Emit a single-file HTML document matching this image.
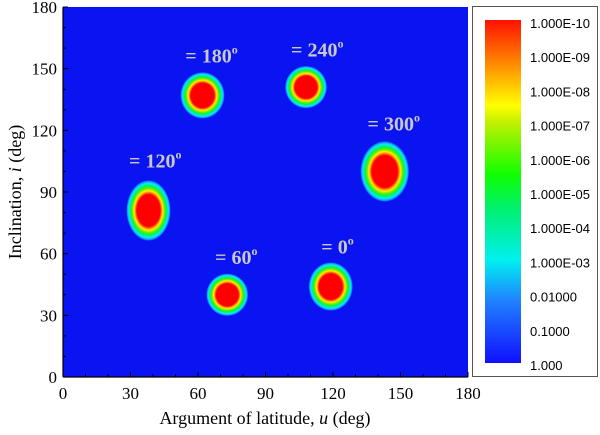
<!DOCTYPE html>
<html><head><meta charset="utf-8"><style>
body{margin:0;background:#fff;width:600px;height:430px;overflow:hidden}
svg text{font-family:"Liberation Serif",serif}
</style></head><body>
<svg id="chart" width="600" height="430" xmlns="http://www.w3.org/2000/svg">
<defs>
<radialGradient id="blobGrad">
<stop offset="0" stop-color="#ff0000"/>
<stop offset="0.52" stop-color="#ff0000"/>
<stop offset="0.58" stop-color="#ff8000"/>
<stop offset="0.64" stop-color="#ffee00"/>
<stop offset="0.72" stop-color="#60f000"/>
<stop offset="0.80" stop-color="#00f060"/>
<stop offset="0.88" stop-color="#00f0f0"/>
<stop offset="0.95" stop-color="#2080ff"/>
<stop offset="1" stop-color="#0a14f0" stop-opacity="0"/>
</radialGradient>
<linearGradient id="cbGrad" x1="0" y1="1" x2="0" y2="0">
<stop offset="0" stop-color="#1010ff"/>
<stop offset="0.18" stop-color="#2080ff"/>
<stop offset="0.3" stop-color="#00f0f0"/>
<stop offset="0.45" stop-color="#00f070"/>
<stop offset="0.55" stop-color="#10ff00"/>
<stop offset="0.7" stop-color="#c0f000"/>
<stop offset="0.75" stop-color="#ffff00"/>
<stop offset="0.85" stop-color="#ffa000"/>
<stop offset="1" stop-color="#ff1000"/>
</linearGradient>
</defs>
<rect x="63" y="7" width="405" height="370" fill="#0a14f0"/>
<g id="blobs"></g>
<g id="labels"></g>
<line x1="63" y1="377" x2="468" y2="377" stroke="#000" stroke-width="1.2"/>
<line x1="63" y1="7" x2="63" y2="377" stroke="#000" stroke-width="1.2"/>
<g id="xticks"></g><g id="yticks"></g>
<text x="265" y="424" font-size="18" text-anchor="middle">Argument of latitude, <tspan font-style="italic">u</tspan> (deg)</text>
<text transform="translate(21,192) rotate(-90)" font-size="18" text-anchor="middle">Inclination, <tspan font-style="italic">i</tspan> (deg)</text>
<rect x="472.5" y="6.5" width="125" height="370" fill="#fff" stroke="#555"/>
<rect x="485" y="20" width="36" height="343" fill="url(#cbGrad)"/>
<g id="cblabels"></g>
</svg>
<script>
const blobU=[119,73,38,62,108,143];
const blobI=[44,40,81,137,141,100];
const blobRu=[10,9.5,10,10,9.5,11];
const blobRi=[12,10.5,15,11.5,10.5,15];
const blobNames=['0','60','120','180','240','300'];
const labelU=[122,77,41,66,113,147];
const labelI=[60,55,102,153,156,120];
const xTicks=[0,30,60,90,120,150,180];
const yTicks=[0,30,60,90,120,150,180];
const cbLabels=['1.000E-10','1.000E-09','1.000E-08','1.000E-07','1.000E-06','1.000E-05','1.000E-04','1.000E-03','0.01000','0.1000','1.000'];
const NS='http://www.w3.org/2000/svg';
const X=u=>63+u*405/180, Y=i=>377-i*370/180;
const sx=405/180, sy=370/180;
function mk(t,a,p){const e=document.createElementNS(NS,t);for(const k in a)e.setAttribute(k,a[k]);p.appendChild(e);return e;}
const gb=document.getElementById('blobs'),gl=document.getElementById('labels');
blobU.forEach((u,k)=>{
 const e=mk('ellipse',{cx:X(u),cy:Y(blobI[k]),rx:blobRu[k]*sx,ry:blobRi[k]*sy,fill:'url(#blobGrad)'},gb);
 
 
 const t=mk('text',{x:X(labelU[k]),y:Y(labelI[k]),'font-size':20,'font-weight':'bold',fill:'#c8c8c8','text-anchor':'middle'},gl);
 t.textContent='= '+blobNames[k];
 const s=mk('tspan',{'font-size':12,dy:-9},t);s.textContent='o';
 
 
});
const gx=document.getElementById('xticks'),gy=document.getElementById('yticks');
for(let v=0;v<=180;v+=10){
 const big=v%30==0;
 mk('line',{x1:X(v),x2:X(v),y1:377,y2:377-(big?5:3),stroke:'#000'},gx);
 mk('line',{x1:63,x2:63+(big?5:3),y1:Y(v),y2:Y(v),stroke:'#000'},gy);
}
xTicks.forEach(v=>{const t=mk('text',{x:X(v),y:399,'font-size':17,'text-anchor':'middle'},gx);t.textContent=v;
 
 });
yTicks.forEach(v=>{const t=mk('text',{x:57,y:Y(v)+6,'font-size':17,'text-anchor':'end'},gy);t.textContent=v;
 
 });
const gc=document.getElementById('cblabels');
cbLabels.forEach((s,k)=>{const t=mk('text',{x:530,y:28+k*34.2,'font-size':13,style:'font-family:"Liberation Sans",sans-serif'},gc);t.textContent=s;
 
 });
</script>
</body></html>
